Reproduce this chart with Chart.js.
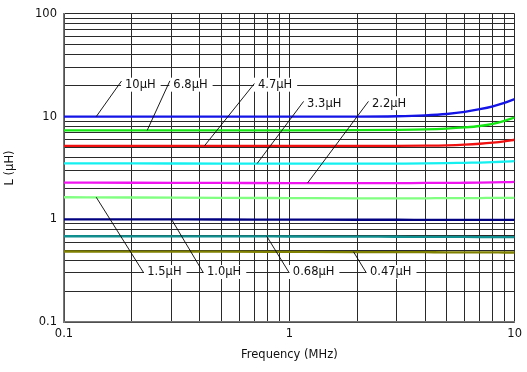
<!DOCTYPE html>
<html>
<head>
<meta charset="utf-8">
<script src="https://cdn.jsdelivr.net/npm/chart.js@4.4.1/dist/chart.umd.min.js"></script>
<style>
  html, body { margin: 0; padding: 0; background: #fff; }
  #wrap { width: 527px; height: 372px; }
</style>
</head>
<body>
<div id="wrap"><canvas id="lChart"></canvas></div>
<script>
// frekuensi (MHz) yang dipakai semua kurva
const freqMHz = [0.1, 0.2, 0.5, 1, 2, 3, 4, 5, 6, 7, 8, 9, 10];

// induktansi (uH) per part
const l10u  = [10.0, 10.0, 10.0, 10.0, 10.0, 10.08, 10.28, 10.6, 11.1, 11.8, 12.6, 13.6, 14.8];
const l6u8  = [7.35, 7.35, 7.35, 7.35, 7.37, 7.42, 7.5, 7.64, 7.84, 8.1, 8.5, 9.08, 9.8];
const l4u7  = [5.19, 5.19, 5.19, 5.19, 5.19, 5.19, 5.21, 5.25, 5.33, 5.44, 5.58, 5.75, 5.95];
const l3u3  = [3.51, 3.5, 3.49, 3.48, 3.48, 3.49, 3.5, 3.52, 3.55, 3.57, 3.6, 3.64, 3.68];
const l2u2  = [2.28, 2.27, 2.26, 2.25, 2.25, 2.25, 2.26, 2.26, 2.27, 2.28, 2.29, 2.3, 2.31];
const l1u5  = [1.64, 1.63, 1.62, 1.61, 1.6, 1.6, 1.6, 1.61, 1.61, 1.61, 1.62, 1.62, 1.62];
const l1u0  = [1.0, 1.0, 0.995, 0.993, 0.99, 0.99, 0.988, 0.987, 0.986, 0.986, 0.985, 0.985, 0.985];
const l0u68 = [0.684, 0.683, 0.682, 0.68, 0.678, 0.676, 0.675, 0.674, 0.673, 0.672, 0.671, 0.67, 0.67];
const l0u47 = [0.486, 0.485, 0.484, 0.482, 0.48, 0.479, 0.478, 0.477, 0.477, 0.476, 0.476, 0.475, 0.475];

const seriesNames = ['10μH', '6.8μH', '4.7μH', '3.3μH', '2.2μH', '1.5μH', '1.0μH', '0.68μH', '0.47μH'];
const seriesValues = [l10u, l6u8, l4u7, l3u3, l2u2, l1u5, l1u0, l0u68, l0u47];
const seriesColors = ['#1414e6', '#14e614', '#f01010', '#14f0f0', '#f014f0', '#80ff80', '#000080', '#109090', '#808000'];

// label keterangan + garis penunjuk (koordinat data)
const calloutText    = ['10μH', '6.8μH', '4.7μH', '3.3μH', '2.2μH', '1.5μH', '1.0μH', '0.68μH', '0.47μH'];
const calloutAnchorF = [0.139, 0.234, 0.42, 0.72, 1.205, 0.139, 0.30, 0.794, 1.926];
const calloutAnchorL = [10.0, 7.35, 5.19, 3.5, 2.26, 1.64, 1.0, 0.683, 0.483];
const calloutEndF    = [0.180, 0.295, 0.700, 1.157, 2.244, 0.226, 0.416, 1.0, 2.198];
const calloutEndL    = [22.2, 22.3, 21.0, 14.06, 14.06, 0.3, 0.3, 0.3, 0.3];
const calloutRowL    = [20, 20, 20, 13.2, 13.2, 0.3, 0.3, 0.3, 0.3];

// tick
const xTickLabels = ['0.1', '1', '10'];
const yTickLabels = ['0.1', '1', '10', '100'];

const FONT = '"DejaVu Sans", Verdana, sans-serif';

function logGridTicks(min, max) {
    const ticks = [];
    for (let e = Math.round(Math.log10(min)); e < Math.round(Math.log10(max)); e++) {
        for (let m = 1; m <= 9; m++) ticks.push({ value: m * Math.pow(10, e) });
    }
    ticks.push({ value: max });
    return ticks;
}

function decadeLabel(labels) {
    return function(value) {
        const s = String(Number(value.toPrecision(3)));
        return labels.includes(s) ? s : '';
    };
}

const calloutPlugin = {
    id: 'callouts',
    afterDatasetsDraw(chart) {
        const ctx = chart.ctx;
        const x = chart.scales.x, y = chart.scales.y;
        ctx.save();
        ctx.font = '11.5px ' + FONT;
        ctx.textBaseline = 'middle';
        for (let i = 0; i < calloutText.length; i++) {
            const ax = x.getPixelForValue(calloutAnchorF[i]);
            const ay = y.getPixelForValue(calloutAnchorL[i]);
            const ex = x.getPixelForValue(calloutEndF[i]);
            const ey = y.getPixelForValue(calloutEndL[i]);
            const tx = ex + 3.5;
            const ty = y.getPixelForValue(calloutRowL[i]) - 1;
            const w = ctx.measureText(calloutText[i]).width;
            ctx.fillStyle = '#fff';
            ctx.fillRect(tx - 4, ty - 7, w + 9, 14);
            ctx.strokeStyle = '#000';
            ctx.lineWidth = 0.9;
            ctx.beginPath();
            ctx.moveTo(ax, ay);
            ctx.lineTo(ex, ey);
            ctx.stroke();
            ctx.fillStyle = '#111';
            ctx.fillText(calloutText[i], tx, ty + 0.5);
        }
        ctx.restore();
    }
};

const ctx = document.getElementById('lChart').getContext('2d');
const lChart = new Chart(ctx, {
    type: 'scatter',
    data: {
        datasets: seriesValues.map(function(vals, i) {
            return {
                label: seriesNames[i],
                data: freqMHz.map(function(f, j) { return { x: f, y: vals[j] }; }),
                showLine: true,
                borderColor: seriesColors[i],
                borderWidth: 2.3,
                pointRadius: 0,
                cubicInterpolationMode: 'monotone',
                fill: false
            };
        })
    },
    options: {
        responsive: true,
        maintainAspectRatio: false,
        animation: false,
        layout: { padding: { left: 0, right: 11, top: 12, bottom: 0 } },
        plugins: {
            legend: { display: false },
            tooltip: { enabled: false }
        },
        scales: {
            x: {
                type: 'logarithmic',
                min: 0.1,
                max: 10,
                afterBuildTicks: function(scale) { scale.ticks = logGridTicks(0.1, 10); },
                afterFit: function(scale) { scale.height = 50; },
                ticks: {
                    autoSkip: false,
                    maxRotation: 0,
                    padding: 5,
                    color: '#111',
                    font: { family: FONT, size: 11.5 },
                    callback: decadeLabel(xTickLabels)
                },
                grid: { color: '#2a2a2a', lineWidth: 1, drawTicks: false },
                border: { color: '#777', width: 1.5 },
                title: {
                    display: true,
                    text: 'Frequency (MHz)',
                    color: '#111',
                    font: { family: FONT, size: 11.5 },
                    padding: { top: 0, bottom: 10 }
                }
            },
            y: {
                type: 'logarithmic',
                min: 0.1,
                max: 100,
                afterBuildTicks: function(scale) { scale.ticks = logGridTicks(0.1, 100); },
                afterFit: function(scale) { scale.width = 64; },
                ticks: {
                    autoSkip: false,
                    padding: 7,
                    color: '#111',
                    font: { family: FONT, size: 11.5 },
                    callback: decadeLabel(yTickLabels)
                },
                grid: { color: '#2a2a2a', lineWidth: 1, drawTicks: false },
                border: { color: '#777', width: 1.5 },
                title: {
                    display: true,
                    text: 'L (μH)',
                    color: '#111',
                    font: { family: FONT, size: 11.5 },
                    padding: { top: 3, bottom: 0 }
                }
            }
        }
    },
    plugins: [calloutPlugin]
});
</script>
</body>
</html>
